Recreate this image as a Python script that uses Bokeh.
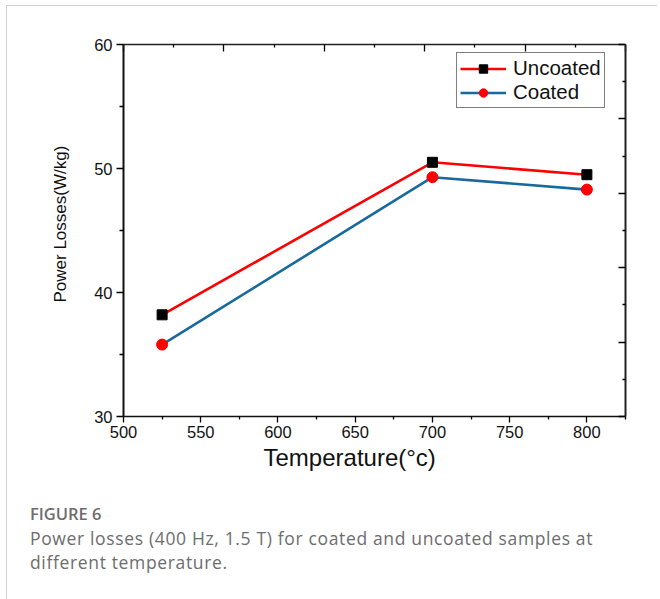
from bokeh.plotting import figure
from bokeh.models import (Range1d, LinearAxis, FixedTicker, Legend, LegendItem,
                          Div, Title)
from bokeh.layouts import column
from bokeh.embed import file_html
from bokeh.resources import INLINE

# ---- data ----
temperature = [525, 700, 800]
uncoated = [38.2, 50.5, 49.5]
coated = [35.8, 49.3, 48.3]
x_ticks = [500, 550, 600, 650, 700, 750, 800]
y_ticks = [30, 40, 50, 60]
x_label = "Temperature(°c)"
y_label = "Power Losses(W/kg)"
series_names = ["Uncoated", "Coated"]
caption_title = "FIGURE 6"
caption_lines = ["Power losses (400 Hz, 1.5 T) for coated and uncoated samples at",
                 "different temperature."]

FONT = "Liberation Sans"

p = figure(width=640, height=482, x_range=Range1d(500, 825), y_range=Range1d(30, 60),
           output_backend="svg", toolbar_location=None,
           min_border_left=116, min_border_right=22, min_border_top=38, min_border_bottom=72)
p.xgrid.grid_line_color = None
p.ygrid.grid_line_color = None
p.outline_line_color = None
p.background_fill_color = "white"
p.border_fill_color = "white"

# bottom axis
xa = p.xaxis[0]
xa.ticker = FixedTicker(ticks=x_ticks, minor_ticks=[525, 575, 625, 675, 725, 775, 825])
xa.axis_line_width = 1.5
xa.axis_line_color = "#111111"
xa.major_tick_out = 6
xa.major_tick_in = 0
xa.minor_tick_out = 3
xa.minor_tick_in = 0
xa.major_tick_line_width = 1.3
xa.minor_tick_line_width = 1.3
xa.major_label_text_font = FONT
xa.major_label_text_font_size = "16.5px"
xa.major_label_text_color = "#111111"
xa.major_label_standoff = 3

# left axis
ya = p.yaxis[0]
ya.ticker = FixedTicker(ticks=y_ticks, minor_ticks=[35, 45, 55])
ya.axis_line_width = 2
ya.axis_line_color = "#111111"
ya.major_tick_out = 7
ya.major_tick_in = 0
ya.minor_tick_out = 4
ya.minor_tick_in = 0
ya.major_tick_line_width = 1.3
ya.minor_tick_line_width = 1.3
ya.major_label_text_font = FONT
ya.major_label_text_font_size = "16.5px"
ya.major_label_text_color = "#111111"
ya.major_label_standoff = 4

# y title, shifted up slightly like the reference
p.add_layout(Title(text=y_label, align="left", offset=114, text_font=FONT,
                   text_font_size="17px", text_font_style="normal",
                   text_color="#111111", standoff=44), "left")

# top and right decorative axes (ticks only)
p.extra_x_ranges = {"top": Range1d(0, 5)}
p.extra_y_ranges = {"right": Range1d(0, 5)}
frame_ticks = [0, 1, 2, 3, 4, 5]
ta = LinearAxis(x_range_name="top",
                ticker=FixedTicker(ticks=frame_ticks, minor_ticks=[0.5, 1.5, 2.5, 3.5, 4.5]))
ra = LinearAxis(y_range_name="right",
                ticker=FixedTicker(ticks=frame_ticks, minor_ticks=[0.5, 1.5, 2.5, 3.5, 4.5]))
for ax, lw in ((ta, 1.5), (ra, 2)):
    ax.axis_line_width = lw
    ax.axis_line_color = "#222222"
    ax.major_tick_in = 7
    ax.major_tick_out = 0
    ax.minor_tick_in = 3
    ax.minor_tick_out = 0
    ax.major_tick_line_width = 1.3
    ax.minor_tick_line_width = 1.3
    ax.major_label_overrides = {t: "" for t in frame_ticks}
    ax.major_label_standoff = 0
p.add_layout(ta, "above")
p.add_layout(ra, "right")

# x title, shifted left like the reference
p.add_layout(Title(text=x_label, align="left", offset=140, text_font=FONT,
                   text_font_size="24px", text_font_style="normal",
                   text_color="#111111", standoff=2), "below")

# data
r1l = p.line(temperature, uncoated, line_color="#ff0000", line_width=2.6)
r1m = p.scatter(temperature, uncoated, marker="square", size=10, fill_color="black",
                line_color="black")
r2l = p.line(temperature, coated, line_color="#176a9b", line_width=2.6)
r2m = p.scatter(temperature, coated, marker="circle", size=11, fill_color="#ff0000",
                line_color="#ff0000")

legend = Legend(items=[LegendItem(label=series_names[0], renderers=[r1l, r1m]),
                       LegendItem(label=series_names[1], renderers=[r2l, r2m])],
                location=(333, 308))
legend.label_text_font = FONT
legend.label_text_font_size = "20.5px"
legend.label_text_color = "#111111"
legend.glyph_width = 46
legend.glyph_height = 21
legend.label_height = 21
legend.label_standoff = 7
legend.spacing = 0
legend.padding = 3
legend.margin = 0
legend.border_line_color = "black"
legend.border_line_width = 1
legend.background_fill_alpha = 1
p.add_layout(legend, "center")

caption = Div(width=640, height=111, text=(
    '<div style="padding-left:18px;padding-top:9px;font-family:\'Open Sans\';color:#6d6d6d;'
    'white-space:nowrap">'
    f'<div style="font-size:16.5px;font-weight:600;line-height:24px">{caption_title}</div>'
    f'<div style="font-size:17.5px;line-height:24px;letter-spacing:0.65px">'
    f'{caption_lines[0]}<br>{caption_lines[1]}</div>'
    '</div>'))

layout = column(p, caption, spacing=0,
                styles={"margin-left": "6px", "margin-top": "5px",
                        "border-left": "1px solid #d0d0d0", "border-top": "1px solid #d0d0d0"})
open("out.html", "w").write(file_html(layout, INLINE))
